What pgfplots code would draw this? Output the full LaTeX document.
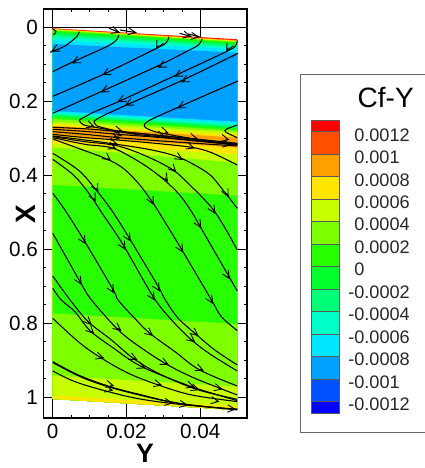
\documentclass[border=0pt]{standalone}
\usepackage{pgfplots}
\pgfplotsset{compat=1.18}
\usepackage{fontspec}
\setmainfont{Liberation Sans}
\usetikzlibrary{arrows.meta}
\definecolor{cR}{RGB}{255,0,0}
\definecolor{cRO}{RGB}{255,80,0}
\definecolor{cO}{RGB}{255,160,0}
\definecolor{cY}{RGB}{255,230,0}
\definecolor{cYG}{RGB}{200,255,0}
\definecolor{cL}{RGB}{125,255,0}
\definecolor{cG}{RGB}{40,255,0}
\definecolor{cG2}{RGB}{0,255,45}
\definecolor{cS}{RGB}{0,255,120}
\definecolor{cT}{RGB}{0,255,200}
\definecolor{cC}{RGB}{0,230,255}
\definecolor{cB}{RGB}{0,160,255}
\definecolor{cB2}{RGB}{0,80,255}
\definecolor{cB3}{RGB}{0,0,255}
\newcommand\band[3]{\addplot[fill=#1,draw=none] coordinates {(0,#2)(0.05,#3)(0.05,1.0342)(0,1.0045)} --cycle;}
\newcommand\keybox[3]{\addplot[fill=#1,draw=black!65,line width=0.35pt] coordinates {(11.7,#2)(39.3,#2)(39.3,#3)(11.7,#3)} --cycle;}
\newcommand\keylab[3]{\node[anchor=west,inner sep=0pt,yshift=-2.4pt,font=\fontsize{13.6}{16}\selectfont,text=black!85] at (axis cs:#1,#2) {#3};}
\begin{document}
\begin{tikzpicture}
\path[use as bounding box] (0,0) rectangle (318.75pt,351pt);
\begin{axis}[
  scale only axis, width=152.55pt, height=306.75pt,
  at={(32.5pt,37.5pt)}, anchor=south west,
  xmin=-0.00255, xmax=0.05257, ymin=-0.0495, ymax=1.056, y dir=reverse,
  xtick={0,0.02,0.04}, xticklabels={0,0.02,0.04},
  ytick={0,0.2,0.4,0.6,0.8,1}, yticklabels={0,0.2,0.4,0.6,0.8,1},
  minor x tick num=3, minor y tick num=3,
  scaled ticks=false,
  grid=major, major grid style={black,line width=0.45pt},
  tick align=inside, major tick length=3pt, minor tick length=2pt,
  tick style={black,line width=0.5pt},
  axis line style={line width=1.15pt},
  tick label style={font=\fontsize{15.5}{18}\selectfont},
  xticklabel style={yshift=-1pt},
  yticklabel style={xshift=-0.5pt},
  xlabel={\textbf{Y}}, ylabel={\textbf{X}},
  x label style={at={(axis description cs:0.5,-0.0865)},anchor=center,font=\fontsize{20}{23}\selectfont},
  y label style={at={(axis description cs:-0.0875,0.499)},anchor=center,font=\fontsize{21}{24}\selectfont},
  streamline/.style={black,line width=0.8pt,smooth,tension=0.55,no markers},
]
% contour bands, each painted from its upper boundary down to the lower edge
\band{cR}{.0027}{.0324}
\band{cRO}{.0036}{.0342}
\band{cO}{.0045}{.0356}
\band{cY}{.0054}{.0369}
\band{cYG}{.0063}{.0378}
\band{cL}{.0072}{.0387}
\band{cG}{.0090}{.0405}
\band{cG2}{.0126}{.0432}
\band{cS}{.0180}{.0477}
\band{cT}{.0252}{.0532}
\band{cC}{.0342}{.0595}
\band{cB}{.0450}{.0685}
\band{cC}{.2261}{.2550}
\band{cT}{.2297}{.2604}
\band{cS}{.2342}{.2658}
\band{cG2}{.2387}{.2712}
\band{cG}{.2423}{.2748}
\band{cL}{.2477}{.2793}
\band{cYG}{.2550}{.2838}
\band{cY}{.2613}{.2910}
\band{cO}{.2667}{.2982}
\band{cY}{.2928}{.3252}
\band{cYG}{.3135}{.3432}
\band{cL}{.3243}{.3658}
\band{cG}{.4261}{.4550}
\band{cL}{.7730}{.8018}
\band{cYG}{.9414}{.9712}
\band{cY}{.9955}{1.0252}
% streamlines
\addplot[streamline] coordinates {(.0072,.0117)(.0065,.0252)(.0033,.0505)(-.0007,.0676)};
\addplot[streamline] coordinates {(.0001,.0054)(.0009,.0117)(.0002,.0207)};
\addplot[streamline] coordinates {(.0179,.0207)(.0173,.0342)(.0146,.0523)(.0056,.0928)(0,.1198)};
\addplot[streamline] coordinates {(.0315,.0252)(.0308,.0414)(.0281,.0568)(.0137,.1270)(0,.1865)};
\addplot[streamline] coordinates {(.0405,.0315)(.0395,.0477)(.0367,.0631)(.0290,.1018)(.0137,.1712)(0,.2324)};
\addplot[streamline] coordinates {(.05,.0360)(.0495,.0505)(.0470,.0658)(.0335,.1288)(.0182,.1991)(.0114,.2279)(.0080,.2459)(.0072,.2514)(.0080,.2613)(.0096,.2667)(.0177,.2802)(.0295,.2928)(.0385,.3027)(.05,.3162)};
\addplot[streamline] coordinates {(.0502,.0703)(.0353,.1423)(.0200,.2099)(.0141,.2369)(.0119,.2486)(.0112,.2550)(.0117,.2640)(.0132,.2703)(.0205,.2865)(.0295,.2964)(.0385,.3054)(.05,.3180)};
\addplot[streamline] coordinates {(.0502,.1450)(.0344,.2144)(.0277,.2441)(.0254,.2568)(.0248,.2667)(.0258,.2748)(.0285,.2838)(.0385,.3018)(.05,.3153)};
\addplot[streamline] coordinates {(.05,.2640)(.0470,.2757)(.0470,.2838)(.05,.2982)};
\addplot[streamline] coordinates {(0,.2703)(.0096,.2748)(.0177,.2820)(.0295,.2928)(.0385,.3018)(.05,.3135)};
\addplot[streamline] coordinates {(0,.2757)(.0096,.2820)(.0177,.2892)(.0295,.2982)(.0385,.3072)(.05,.3180)};
\addplot[streamline] coordinates {(0,.2820)(.0087,.2892)(.0177,.2982)(.0295,.3072)(.0385,.3135)(.05,.3207)};
\addplot[streamline] coordinates {(0,.2892)(.0087,.2982)(.0173,.3045)(.0277,.3135)(.0376,.3243)(.0430,.3387)(.05,.3721)};
\addplot[streamline] coordinates {(0,.2937)(.0087,.3045)(.0173,.3162)(.0268,.3315)(.0344,.3523)(.0421,.3946)(.0461,.4396)(.05,.4892)};
\addplot[streamline] coordinates {(0,.2955)(.0087,.3090)(.0173,.3198)(.0250,.3468)(.0326,.3856)(.0376,.4306)(.0412,.4667)(.0439,.4982)(.0470,.5478)(.05,.6018)};
\addplot[streamline] coordinates {(0,.2982)(.0087,.3162)(.0164,.3270)(.0241,.3676)(.0299,.4099)(.0344,.4531)(.0376,.4982)(.0397,.5342)(.0475,.6694)(.05,.7126)};
\addplot[streamline] coordinates {(0,.3018)(.0069,.3270)(.0146,.3558)(.0191,.3811)(.0232,.4216)(.0268,.4693)(.0284,.4937)(.0349,.6000)(.0430,.7369)(.0457,.7820)(.05,.8198)};
\addplot[streamline] coordinates {(0,.3405)(.0069,.3856)(.0114,.4351)(.0159,.4937)(.0205,.5658)(.0286,.7009)(.0305,.7369)(.0340,.7865)(.0385,.8270)(.0439,.8721)(.05,.9126)};
\addplot[streamline] coordinates {(0,.3568)(.0056,.3991)(.0096,.4460)(.0134,.5027)(.0191,.5883)(.0272,.7279)(.0322,.7910)(.0376,.8450)(.0430,.8856)(.05,.9288)};
\addplot[streamline] coordinates {(0,.4486)(.0033,.4937)(.0087,.5793)(.0164,.7099)(.0177,.7369)(.0222,.7865)(.0263,.8270)(.0331,.8766)(.0398,.9261)(.05,.9694)};
\addplot[streamline] coordinates {(0,.5568)(.0074,.6874)(.0105,.7369)(.0173,.8135)(.0222,.8540)(.0304,.9081)(.0385,.9486)(.05,.9937)};
\addplot[streamline] coordinates {(0,.6721)(.0047,.7369)(.0096,.7955)(.0159,.8450)(.0218,.8946)(.0286,.9351)(.0389,.9784)(.05,1.0054)};
\addplot[streamline] coordinates {(0,.7054)(.0023,.7369)(.0060,.7685)(.0101,.8198)(.0159,.8631)(.0241,.9171)(.0376,.9712)(.05,1.0090)};
\addplot[streamline] coordinates {(0,.7865)(.0069,.8495)(.0128,.8919)(.0205,.9351)(.0286,.9667)(.0376,.9937)(.05,1.0117)};
\addplot[streamline] coordinates {(0,.9036)(.0069,.9396)(.0155,.9712)(.0241,.9937)(.0317,1.0117)(.0394,1.0234)(.05,1.0324)};
\addplot[streamline] coordinates {(0,.9063)(.0078,.9459)(.0155,.9730)(.0245,.9964)(.0340,1.0162)(.05,1.0342)};
\addplot[streamline] coordinates {(0,.9288)(.0060,.9577)(.0150,.9847)(.0241,1.0054)(.0358,1.0207)(.05,1.0324)};
\addplot[streamline] coordinates {(.0153,.0027)(.0182,.0144)};
\addplot[streamline] coordinates {(.0182,.0072)(.0227,.0144)};
\addplot[streamline] coordinates {(.0344,.0162)(.0376,.0252)};
\addplot[streamline] coordinates {(.0367,.0180)(.0398,.0252)};
% arrow heads
\addplot[black,line width=0.65pt,quiver={u=\thisrow{u},v=\thisrow{v},every arrow/.append style={-{Straight Barb[length=5.6pt,width=5.4pt]}}}] table[x=x,y=y] {
x y u v
.0006 .0604 -.00108 .0054
.0062 .0919 -.00108 .0054
.0145 .1234 -.00108 .0054
.0141 .1703 -.00108 .0054
.0186 .1964 -.00108 .0054
.0206 .2063 -.00108 .0054
.0295 .1036 -.00108 .0054
.0340 .1279 -.00108 .0054
.0358 .1432 -.00108 .0054
.0348 .2135 -.00108 .0054
.0286 .0486 -.00054 .0108
.0476 .0550 -.00054 .0108
.0171 .0108 .00108 .0036
.0216 .0126 .00108 .0018
.0365 .0225 .00108 .0027
.0387 .0252 .00108 .0018
.01036 .2658 .00108 .0036
.0180 .2793 .00108 .0027
.0177 .2901 .00108 .0027
.0171 .2991 .00108 .0027
.0165 .3126 .00108 .0036
.0162 .3243 .00108 .0045
.0304 .2829 .00108 .0036
.0295 .2928 .00108 .0027
.0383 .2991 .00108 .0027
.0468 .3018 .00108 .0027
.0473 .3162 .00108 .0018
.0374 .3234 .00108 .0036
.0149 .3541 .0009 .0072
.0344 .3532 .0009 .0054
.0305 .4063 .00072 .0108
.0327 .3838 .00081 .0081
.0471 .4487 .00054 .0108
.0118 .4351 .00054 .0108
.0111 .4604 .00054 .0108
.0268 .4694 .00054 .0108
.0084 .5775 .00054 .0090
.0073 .6874 .00054 .0090
.0161 .7099 .00054 .0090
.0192 .5928 .00054 .0090
.0206 .5703 .00054 .0090
.0285 .7054 .00054 .0090
.0271 .7297 .00054 .0090
.0348 .6000 .00054 .0090
.0429 .7387 .00054 .0090
.0397 .5342 .00054 .0090
.0474 .6721 .00054 .0090
.0435 .4955 .00054 .0090
.0098 .7973 .00072 .0072
.0105 .8216 .00072 .0072
.0177 .8135 .0009 .0072
.0263 .8270 .0009 .0072
.0386 .8270 .0009 .0072
.0377 .8441 .0009 .0072
.0129 .8910 .00108 .0036
.0219 .8937 .00108 .0054
.0241 .9171 .00108 .0045
.0304 .9072 .00108 .0054
.0399 .9234 .00108 .0045
.0286 .9649 .00108 .0027
.0156 .9667 .00108 .0027
.0153 .9793 .00108 .0027
.0374 .9694 .00108 .0036
.0387 .9766 .00108 .0036
.0450 .9757 .00108 .0027
.0441 1.0099 .00108 .0018
.0315 1.0144 .00108 .0018
.0356 1.0198 .00108 .0018
.0486 1.0315 .00108 .0009
};
\end{axis}
% legend panel: x in pixels from the panel edge, y in Cf-Y units
\begin{axis}[
  scale only axis, width=105pt, height=268.8pt,
  at={(225pt,26.475pt)}, anchor=south west,
  xmin=0, xmax=140, ymin=-0.00148, ymax=0.001711,
  xtick=\empty, ytick=\empty,
  axis line style={black!60,line width=0.7pt},
]
\keybox{cR}{0.001304}{0.0012}
\keybox{cRO}{0.0012}{0.001}
\keybox{cO}{0.001}{0.0008}
\keybox{cY}{0.0008}{0.0006}
\keybox{cYG}{0.0006}{0.0004}
\keybox{cL}{0.0004}{0.0002}
\keybox{cG}{0.0002}{0}
\keybox{cG2}{0}{-0.0002}
\keybox{cS}{-0.0002}{-0.0004}
\keybox{cT}{-0.0004}{-0.0006}
\keybox{cC}{-0.0006}{-0.0008}
\keybox{cB}{-0.0008}{-0.001}
\keybox{cB2}{-0.001}{-0.0012}
\keybox{cB3}{-0.0012}{-0.001307}
\keylab{54}{0.0012}{0.0012}
\keylab{54}{0.001}{0.001}
\keylab{54}{0.0008}{0.0008}
\keylab{54}{0.0006}{0.0006}
\keylab{54}{0.0004}{0.0004}
\keylab{54}{0.0002}{0.0002}
\keylab{54}{0}{0}
\keylab{48}{-0.0002}{-0.0002}
\keylab{48}{-0.0004}{-0.0004}
\keylab{48}{-0.0006}{-0.0006}
\keylab{48}{-0.0008}{-0.0008}
\keylab{48}{-0.001}{-0.001}
\keylab{48}{-0.0012}{-0.0012}
\node[font=\fontsize{21}{24}\selectfont] at (axis cs:85.7,0.0015) {Cf-Y};
\end{axis}
\end{tikzpicture}
\end{document}
